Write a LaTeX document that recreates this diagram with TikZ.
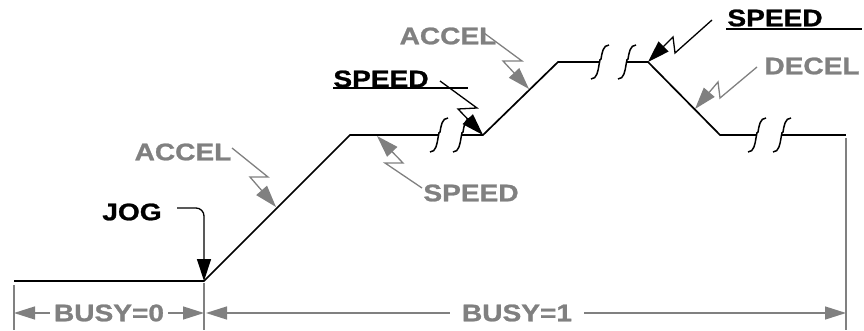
\documentclass[tikz,border=0pt]{standalone}
\usepackage{graphicx}
\usepackage{fontspec}
\setmainfont{Liberation Sans}[BoldFeatures={FakeBold=1}]
\usetikzlibrary{arrows.meta}
\definecolor{gr}{HTML}{808080}
\newcommand{\widetxt}[1]{\scalebox{1.17}[1]{#1}}
\begin{document}
\begin{tikzpicture}[x=1pt,y=-1pt,
  prof/.style={line width=1.7pt, black},
  brk/.pic={\draw[line width=1.5pt] (-9,17) .. controls (-3,17) and (-2,9) .. (-1,3) .. controls (0,-3) and (0,-3) .. (1,-3) .. controls (2,-9) and (3,-17) .. (9,-17);},
  lbl/.style={inner sep=0pt, font=\fontsize{24}{26}\selectfont\bfseries},
  glbl/.style={lbl, text=gr},
  zarrow/.style={line width=1.3pt, -{Triangle[length=22pt,width=14pt]}},
  garrow/.style={zarrow, draw=gr},
  dim/.style={line width=1.4pt, draw=gr},
  dimarrow/.style={dim, -{Triangle[length=21pt,width=13pt]}},
  uline/.style={line width=1.4pt, black}
]
\useasboundingbox (0,0) rectangle (864,331);

% profile points
\coordinate (p0) at (14,281);
\coordinate (p1) at (204,281);
\coordinate (p2) at (350,135);
\coordinate (b1) at (439,135);
\coordinate (b2) at (462,135);
\coordinate (p3) at (483,135);
\coordinate (p4) at (558,62);
\coordinate (b3) at (600,62);
\coordinate (b4) at (627,62);
\coordinate (p5) at (648,62);
\coordinate (p6) at (720,135);
\coordinate (b5) at (757,135);
\coordinate (b6) at (782,135);
\coordinate (p7) at (846,135);

\draw[prof] (p0) -- (p1) -- (p2) -- (b1);
\draw[prof] (b2) -- (p3) -- (p4) -- (b3);
\draw[prof] (b4) -- (p5) -- (p6) -- (b5);
\draw[prof] (b6) -- (p7);
\foreach \b in {b1,b2,b3,b4,b5,b6} \pic at (\b) {brk};

% labels
\node[glbl] (acc1) at (183,152) {\widetxt{ACCEL}};
\node[lbl]  (jog)  at (132,212) {\widetxt{JOG}};
\node[lbl]  (spd1) at (381,79)  {\widetxt{SPEED}};
\node[glbl] (spd2) at (471,193) {\widetxt{SPEED}};
\node[glbl] (acc2) at (448,36)  {\widetxt{ACCEL}};
\node[lbl]  (spd3) at (775,18)  {\widetxt{SPEED}};
\node[glbl] (dec)  at (812,66)  {\widetxt{DECEL}};

% underlines
\coordinate (u1a) at (333,88);  \coordinate (u1b) at (468,88);
\coordinate (u3a) at (726,29);  \coordinate (u3b) at (862,29);
\draw[uline] (u1a) -- (u1b);
\draw[uline] (u3a) -- (u3b);

% JOG arrow
\coordinate (j0) at (177,208);
\coordinate (j1) at (204,208);
\draw[zarrow, black, rounded corners=8pt] (j0) -- (j1) -- (p1);

% lightning arrows
\coordinate (a1s) at (232,148); \coordinate (a1m) at (268,177); \coordinate (a1n) at (250,177); \coordinate (a1t) at (276,207);
\draw[garrow] (a1s) -- (a1m) -- (a1n) -- (a1t);

\coordinate (s1s) at (440,81); \coordinate (s1m) at (477,108); \coordinate (s1n) at (458,109);
\draw[zarrow, black] (s1s) -- (s1m) -- (s1n) -- (p3);

\coordinate (s2s) at (422,188); \coordinate (s2m) at (385,163); \coordinate (s2n) at (403,163); \coordinate (s2t) at (377,136);
\draw[garrow] (s2s) -- (s2m) -- (s2n) -- (s2t);

\coordinate (a2s) at (484,33); \coordinate (a2m) at (522,61); \coordinate (a2n) at (503,61); \coordinate (a2t) at (529,89);
\draw[garrow] (a2s) -- (a2m) -- (a2n) -- (a2t);

\coordinate (s3s) at (712,20); \coordinate (s3m) at (675,53); \coordinate (s3n) at (673,37);
\draw[zarrow, black] (s3s) -- (s3m) -- (s3n) -- (p5);

\coordinate (ds) at (757,67); \coordinate (dm) at (720,98); \coordinate (dn) at (718,82); \coordinate (dt) at (695,109);
\draw[garrow] (ds) -- (dm) -- (dn) -- (dt);

% dimension lines
\coordinate (v0a) at (14,285);  \coordinate (v0b) at (14,330);
\coordinate (v1a) at (204,283); \coordinate (v1b) at (204,330);
\coordinate (v2a) at (846,138); \coordinate (v2b) at (846,330);
\draw[dim] (v0a) -- (v0b);
\draw[dim] (v1a) -- (v1b);
\draw[dim] (v2a) -- (v2b);

\node[glbl, inner xsep=4pt] (busy0) at (109,313) {\widetxt{BUSY=0}};
\node[glbl, inner xsep=12pt] (busy1) at (517,313) {\widetxt{BUSY=1}};
\coordinate (d0) at (14,313);
\coordinate (d1) at (204,313);
\coordinate (d2) at (206,313);
\coordinate (d3) at (846,313);
\draw[dimarrow] (busy0) -- (d0);
\draw[dimarrow] (busy0) -- (d1);
\draw[dimarrow] (busy1) -- (d2);
\draw[dimarrow] (busy1) -- (d3);
\end{tikzpicture}
\end{document}
